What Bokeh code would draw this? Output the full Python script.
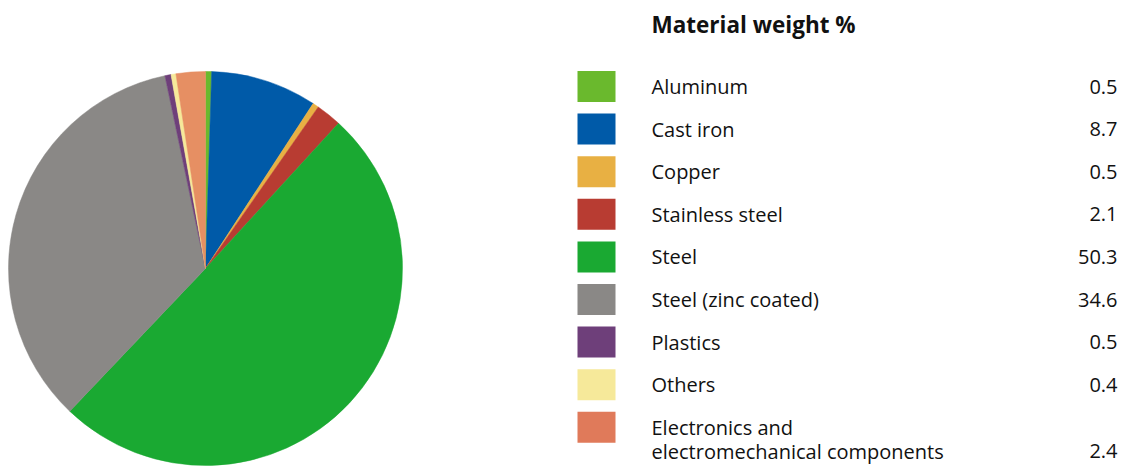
import math
from bokeh.plotting import figure
from bokeh.models import Range1d, ColumnDataSource
from bokeh.core.properties import value
from bokeh.embed import file_html
from bokeh.resources import INLINE

title = "Material weight %"
materials = ["Aluminum", "Cast iron", "Copper", "Stainless steel", "Steel",
             "Steel (zinc coated)", "Plastics", "Others",
             "Electronics and\nelectromechanical components"]
weights = [0.5, 8.7, 0.5, 2.1, 50.3, 34.6, 0.5, 0.4, 2.4]
weight_labels = ["0.5", "8.7", "0.5", "2.1", "50.3", "34.6", "0.5", "0.4", "2.4"]
swatch_colors = ["#6ab92d", "#005aa8", "#e8b043", "#b83c32", "#1aa932",
                 "#8a8886", "#6e3f7a", "#f6e99a", "#e07a5a"]
pie_colors = ["#6ab92d", "#005aa8", "#e8b043", "#b83c32", "#1aa932",
              "#8a8886", "#6e3f7a", "#f6e99a", "#e68f63"]

W, H = 1125, 466
FONT = "Open Sans"

def Y(py):
    return H - py

p = figure(width=W, height=H, output_backend="svg", toolbar_location=None,
           x_range=Range1d(0, W), y_range=Range1d(0, H), min_border=0)
p.axis.visible = False
p.grid.visible = False
p.outline_line_color = None
p.background_fill_color = "white"
p.border_fill_color = "white"

# pie
cx, cy, r = 205, 268, 197
total = sum(weights)
starts, ends = [], []
cum = 0.0
for w in weights:
    starts.append(math.pi / 2 - 2 * math.pi * cum / total)
    cum += w
    ends.append(math.pi / 2 - 2 * math.pi * cum / total)
src = ColumnDataSource(dict(x=[cx] * len(weights), y=[Y(cy)] * len(weights),
                            start=starts, end=ends, color=pie_colors))
p.wedge(x="x", y="y", radius=r, start_angle="start", end_angle="end",
        direction="clock", fill_color="color", line_color="color",
        line_width=0.5, source=src)

# legend
p.text(x=[651], y=[Y(24)], text=[title], text_font=value(FONT),
       text_font_style="bold", text_font_size="22.5px", text_baseline="middle",
       text_color="#111111")

row0, step = 86, 42.6
sw_x0, sw_x1, sw_h = 577, 615, 31
label_x, value_x = 651, 1117
line_gap = 24
for i, (lab, val, col) in enumerate(zip(materials, weight_labels, swatch_colors)):
    yc = row0 + i * step
    p.quad(left=[sw_x0], right=[sw_x1], top=[Y(yc - sw_h / 2)],
           bottom=[Y(yc + sw_h / 2)], fill_color=col, line_color=None)
    lines = lab.split("\n")
    for j, ln in enumerate(lines):
        p.text(x=[label_x], y=[Y(yc + j * line_gap)], text=[ln], text_font=value(FONT),
               text_font_size="20px", text_baseline="middle", text_color="#111111")
    p.text(x=[value_x], y=[Y(yc + (len(lines) - 1) * line_gap)], text=[val],
           text_font=value(FONT), text_font_size="20px", text_baseline="middle",
           text_align="right", text_color="#111111")

open("out.html", "w").write(file_html(p, INLINE))
